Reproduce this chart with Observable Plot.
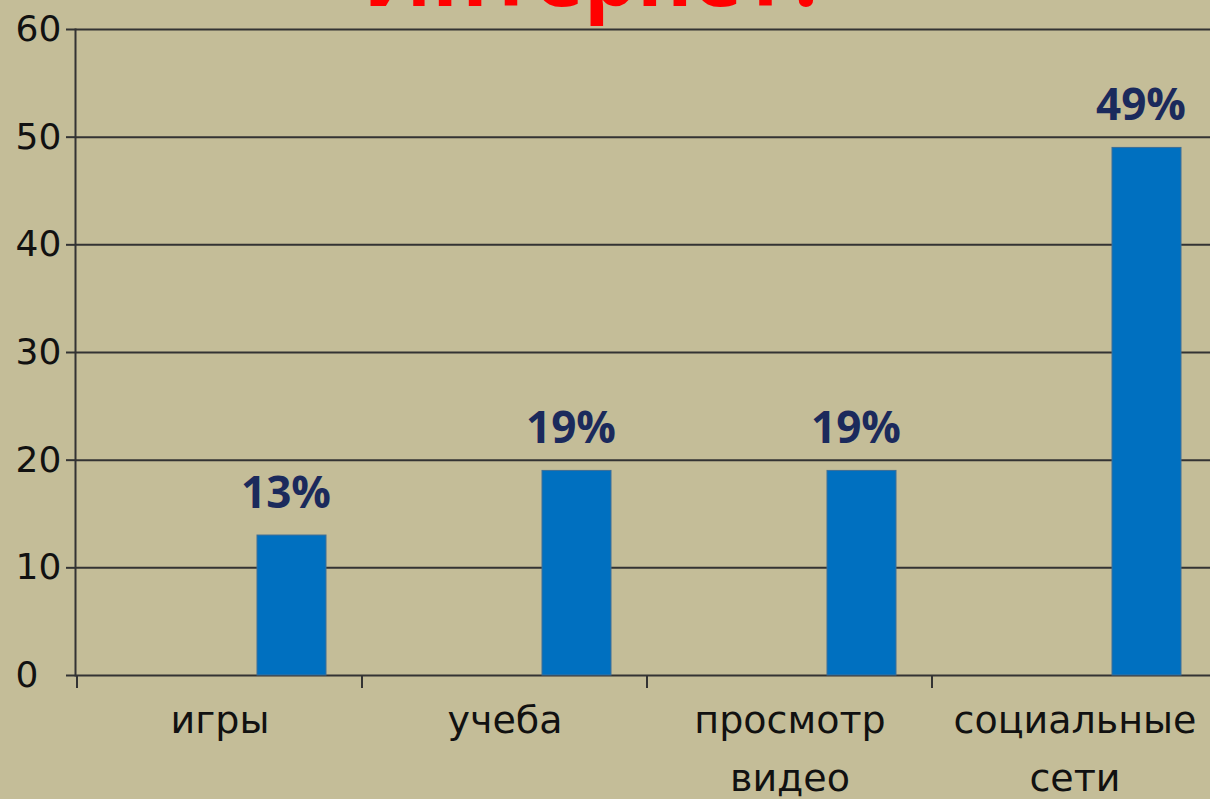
<!DOCTYPE html>
<html>
<head>
<meta charset="utf-8">
<script src="https://cdn.jsdelivr.net/npm/d3@7"></script>
<script src="https://cdn.jsdelivr.net/npm/@observablehq/plot@0.6"></script>
<style>
  html, body { margin: 0; padding: 0; background: #C4BD98; overflow: hidden; }
  #wrap { position: relative; width: 1210px; height: 799px; overflow: hidden; }
  #title { position: absolute; left: 0; width: 1192px; top: -68px; text-align: center;
           font-family: "Open Sans", sans-serif; font-weight: 700; font-size: 84px; line-height: 1;
           color: #FF0000; }
  #chart { position: absolute; left: 0; top: 0; }
</style>
</head>
<body>
<div id="wrap">
  <div id="title">Интернет?</div>
  <div id="chart"></div>
</div>
<script>
const categories = ["игры", "учеба", "просмотр\nвидео", "социальные\nсети"];
const values = [13, 19, 19, 49];
const valueLabels = ["13%", "19%", "19%", "49%"];
const yTicks = [0, 10, 20, 30, 40, 50, 60];

const data = categories.map((c, i) => ({category: c, value: values[i], label: valueLabels[i]}));

// boundary tick marks between categories, drawn with the x band scale
function categoryBoundaryTicks(index, scales, values, dims) {
  const x = scales.x;
  const step = x(categories[1]) - x(categories[0]);
  const edges = categories.map(c => x(c)).concat([x(categories[categories.length - 1]) + step]);
  const y0 = dims.height - dims.marginBottom;
  const g = d3.create("svg:g");
  g.selectAll("line").data(edges).join("line")
    .attr("x1", d => d).attr("x2", d => d)
    .attr("y1", y0).attr("y2", y0 + 13)
    .attr("stroke", "#333").attr("stroke-width", 2);
  return g.node();
}

const plot = Plot.plot({
  width: 1210,
  height: 799,
  marginLeft: 75,
  marginRight: 0,
  marginTop: 29,
  marginBottom: 124,
  style: {background: "transparent", fontFamily: "DejaVu Sans, sans-serif", color: "#111", overflow: "visible"},
  x: {domain: categories, range: [75, 1218], padding: 0, label: null},
  y: {domain: [0, 60], label: null},
  marks: [
    Plot.ruleY(yTicks, {y: d => d, stroke: "#333", strokeWidth: 2}),
    Plot.barY(data, {x: "category", y: "value", fill: "#0070C0", stroke: "#3E6E96", strokeWidth: 1,
                     insetLeft: 180, insetRight: 36}),
    Plot.frame({anchor: "left", stroke: "#333", strokeWidth: 2}),
    Plot.axisY({ticks: yTicks, tickSize: 9, tickPadding: 51, textAnchor: "start",
                fontSize: 36, stroke: "#333", strokeWidth: 2, fill: "#111", tickFormat: d => String(d)}),
    Plot.axisX({tickSize: 0, tickPadding: 16, fontSize: 38, lineHeight: 1.53, fill: "#111"}),
    categoryBoundaryTicks,
    Plot.text(data, {x: "category", y: "value", text: "label", dx: 66, dy: -42,
                     fontFamily: "Open Sans, sans-serif", fontWeight: 700, fontSize: 44, fill: "#1B2A5C"})
  ]
});
document.getElementById("chart").appendChild(plot);
</script>
</body>
</html>
